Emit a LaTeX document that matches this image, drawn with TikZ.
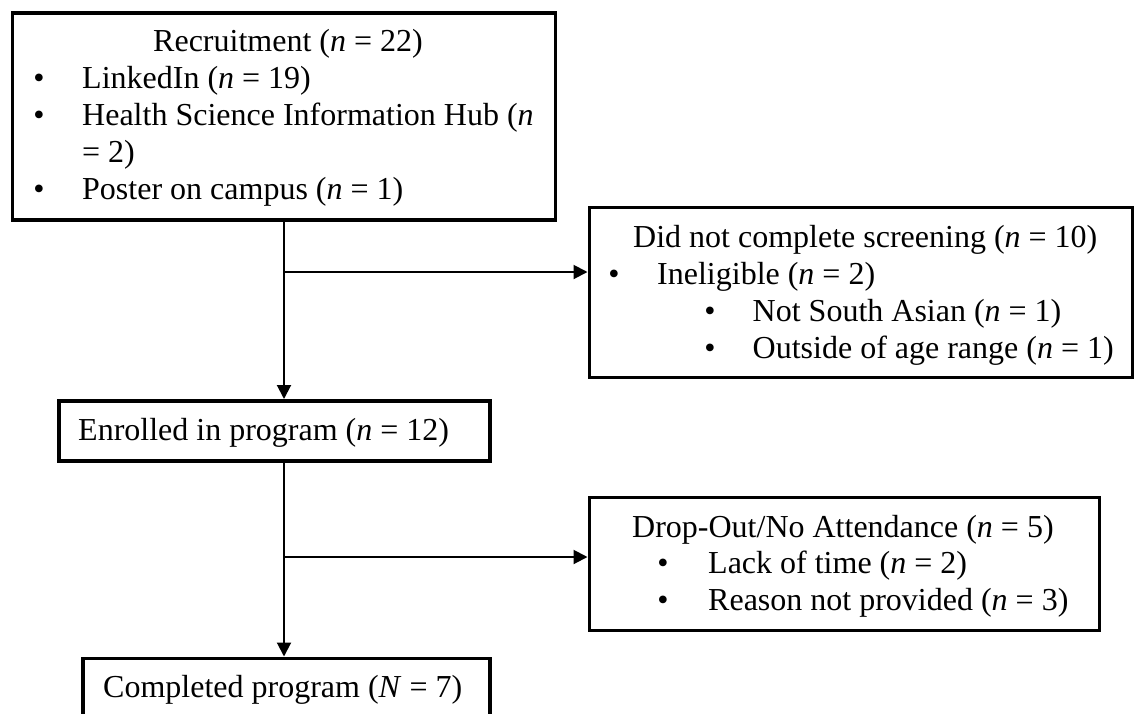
\documentclass[tikz,border=0pt]{standalone}
\usepackage{fontspec}
\setmainfont{Liberation Serif}
\usetikzlibrary{arrows.meta}
\begin{document}
\begin{tikzpicture}[x=1pt,y=-1pt,
  boxst/.style={draw, line width=3.6pt, inner sep=0pt, anchor=north west},
  conn/.style={line width=2pt},
  arr/.style={conn, -{Triangle[length=14pt,width=14pt]}},
  txt/.style={anchor=base west, inner sep=0pt, font=\fontsize{32}{37}\selectfont},
  bul/.style={anchor=base, inner sep=0pt, font=\fontsize{32}{37}\selectfont}]
\useasboundingbox (0,0) rectangle (1135,713);
% boxes
\node[boxst, minimum width=543pt, minimum height=207pt] (b1) at (10.5,11) {};
\node[boxst, minimum width=543pt, minimum height=170pt] (b2) at (587.5,205.5) {};
\node[boxst, minimum width=431pt, minimum height=60pt] (en) at (57,399) {};
\node[boxst, minimum width=510pt, minimum height=133pt] (dr) at (587.5,495.5) {};
\node[boxst, minimum width=407pt, minimum height=80pt] (co) at (81,656.5) {};
% texts box 1
\node[txt] (t1a) at (153,51) {Recruitment (\textit{n} = 22)};
\node[bul] (t1b) at (39,88) {•};
\node[txt] (t1c) at (82,88) {LinkedIn (\textit{n} = 19)};
\node[bul] (t1d) at (39,125) {•};
\node[txt] (t1e) at (82,125) {Health Science Information Hub (\textit{n}};
\node[txt] (t1f) at (82,162) {= 2)};
\node[bul] (t1g) at (39,199) {•};
\node[txt] (t1h) at (82,199) {Poster on campus (\textit{n} = 1)};
% texts box 2
\node[txt] (t2a) at (633,247) {Did not complete screening (\textit{n} = 10)};
\node[bul] (t2b) at (614,284) {•};
\node[txt] (t2c) at (657,284) {Ineligible (\textit{n} = 2)};
\node[bul] (t2d) at (710,321) {•};
\node[txt] (t2e) at (752.5,321) {Not South Asian (\textit{n} = 1)};
\node[bul] (t2f) at (710,358) {•};
\node[txt] (t2g) at (752.5,358) {Outside of age range (\textit{n} = 1)};
% enrolled
\node[txt] (t3) at (78,440) {Enrolled in program (\textit{n} = 12)};
% drop
\node[txt] (t4a) at (632,537) {Drop-Out/No Attendance (\textit{n} = 5)};
\node[bul] (t4b) at (663,573) {•};
\node[txt] (t4c) at (708,573) {Lack of time (\textit{n} = 2)};
\node[bul] (t4d) at (663,610) {•};
\node[txt] (t4e) at (708,610) {Reason not provided (\textit{n} = 3)};
% completed
\node[txt] (t5) at (103,697) {Completed program (\textit{N} = 7)};
% connectors
\coordinate (v) at (284,0);
\coordinate (j1) at (284,272);
\coordinate (j2) at (284,557);
\draw[arr] (b1.south -| v) -- (en.north -| v);
\draw[arr] (j1) -- (b2.west |- j1);
\draw[arr] (en.south -| v) -- (co.north -| v);
\draw[arr] (j2) -- (dr.west |- j2);
\end{tikzpicture}
\end{document}
